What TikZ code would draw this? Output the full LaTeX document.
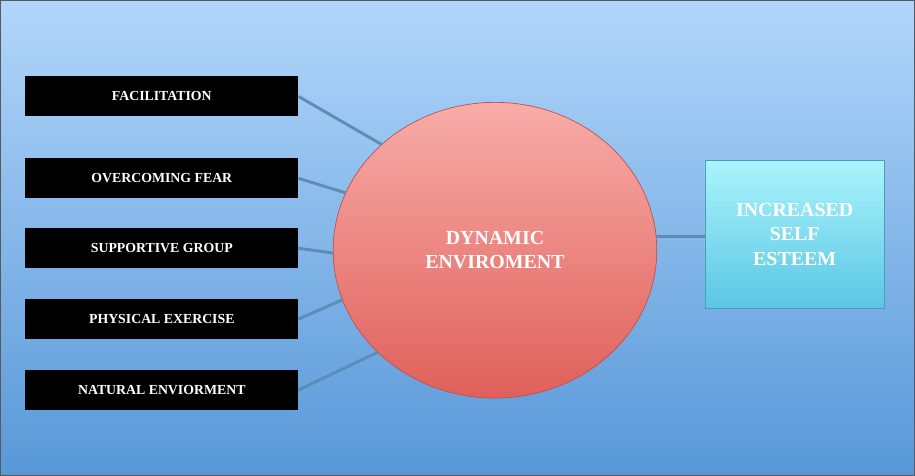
\documentclass[tikz,border=0pt]{standalone}
\usepackage{fontspec}
\setmainfont{Liberation Serif}
\usetikzlibrary{shapes,positioning,calc}
\definecolor{bgtop}{RGB}{178,214,250}
\definecolor{bgbot}{RGB}{88,152,216}
\definecolor{linkblue}{RGB}{92,140,184}
\definecolor{circtop}{RGB}{248,172,168}
\definecolor{circbot}{RGB}{224,96,90}
\definecolor{cyantop}{RGB}{170,244,252}
\definecolor{cyanbot}{RGB}{90,198,228}
\tikzset{
  factor/.style={fill=black, text=white, font=\bfseries\fontsize{11.8}{14}\selectfont,
    minimum width=273*0.03cm, minimum height=40*0.03cm, inner sep=0pt},
  link/.style={draw=linkblue, line width=2.5pt}
}
\begin{document}
\begin{tikzpicture}[x=0.03cm,y=-0.03cm]
  % background
  \shade[top color=bgtop, bottom color=bgbot, draw=gray!70!black, line width=0.8pt]
    (0,0) rectangle (915,475);
  \useasboundingbox (0,0) rectangle (915,475);
  % factors
  \node[factor] (fac) at (161.5,96) {FACILITATION};
  \node[factor] (fear) at (161.5,178) {OVERCOMING FEAR};
  \node[factor] (group) at (161.5,248) {SUPPORTIVE GROUP};
  \node[factor] (exer) at (161.5,319) {PHYSICAL EXERCISE};
  \node[factor] (nat) at (161.5,390) {NATURAL ENVIORMENT};
  % centre
  \node[ellipse, minimum width=324*0.03cm, minimum height=296*0.03cm,
    top color=circtop, bottom color=circbot, draw=circbot!85!black, line width=0.6pt,
    text=white, align=center, font=\bfseries\fontsize{17}{21}\selectfont]
    (env) at (495,250) {DYNAMIC\\ENVIROMENT};
  % result
  \node[top color=cyantop, bottom color=cyanbot, draw=cyanbot!80!black,
    minimum width=180*0.03cm, minimum height=148*0.03cm, text=white, align=center,
    font=\bfseries\fontsize{17}{21}\selectfont] (self) at (795,234) {INCREASED\\SELF\\ESTEEM};
  % links
  \draw[link] (fac.east) -- (env.137);
  \draw[link] (fear.east) -- (env.159);
  \draw[link] (group.east) -- (env.181);
  \draw[link] (exer.east) -- (env.198);
  \draw[link] (nat.east) -- (env.221);
  \draw[link] (env.5) -- (self.west |- env.5);
\end{tikzpicture}
\end{document}
